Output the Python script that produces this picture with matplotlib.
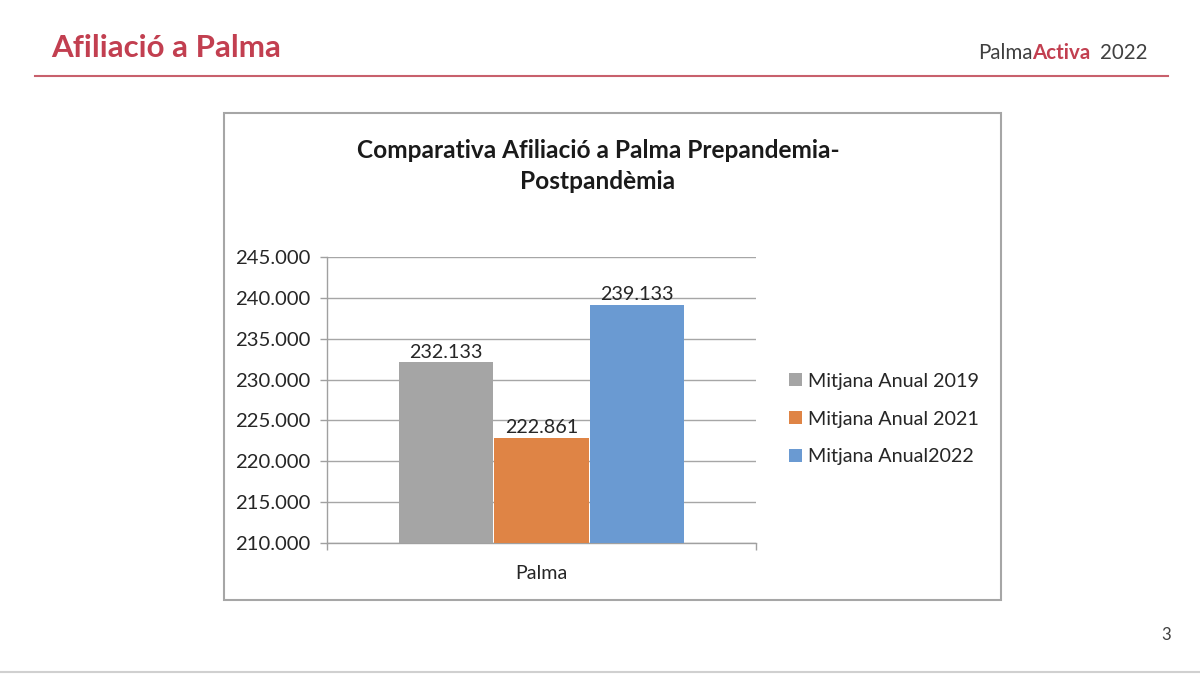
import matplotlib
matplotlib.use("Agg")
import matplotlib.pyplot as plt
from matplotlib.patches import Rectangle
from matplotlib.lines import Line2D

plt.rcParams['font.family'] = ['Lato', 'DejaVu Sans']

# ---- data ----
category = "Palma"
series = ["Mitjana Anual 2019", "Mitjana Anual 2021", "Mitjana Anual2022"]
values = [232133, 222861, 239133]
value_labels = ["232.133", "222.861", "239.133"]
colors = ["#A5A5A5", "#DF8445", "#6A9AD2"]
yticks = [210000, 215000, 220000, 225000, 230000, 235000, 240000, 245000]

W, H = 1200, 675
fig = plt.figure(figsize=(12, 6.75), dpi=100)
fig.patch.set_facecolor("white")

def fx(x):
    return x / W

def fy(y):
    return 1 - y / H

red = "#C23F50"
txt = "#262626"

# slide header
fig.text(fx(51), fy(48), "Afiliació a Palma", fontsize=22.5, fontweight="bold",
         color=red, va="center", ha="left")
fig.add_artist(Line2D([fx(35), fx(1168)], [fy(76), fy(76)], color="#C8606C", lw=1.5))
t1 = fig.text(fx(978), fy(53), "Palma", fontsize=14.8, color="#404040", va="center", ha="left")
fig.canvas.draw()
r = fig.canvas.get_renderer()
bb = t1.get_window_extent(r)
t2 = fig.text(bb.x1 / W, fy(53), "Activa", fontsize=14.8, fontweight="bold", color=red,
              va="center", ha="left")
bb2 = t2.get_window_extent(r)
fig.text(bb2.x1 / W + fx(9), fy(53), "2022", fontsize=14.8, color="#404040", va="center", ha="left")
fig.text(fx(1166), fy(635), "3", fontsize=12, color="#404040", va="center", ha="center")
fig.add_artist(Line2D([0, 1], [fy(672), fy(672)], color="#D0D0D0", lw=1.5))

# chart box
fig.add_artist(Rectangle((fx(224), fy(600)), fx(777), 487 / H, transform=fig.transFigure,
                         fill=False, edgecolor="#A6A6A6", lw=1.5))
fig.text(fx(598), fy(166), "Comparativa Afiliació a Palma Prepandemia-\nPostpandèmia",
         fontsize=17.6, fontweight="bold", color="#1a1a1a", ha="center", va="center",
         linespacing=1.4)

# axes
ax = fig.add_axes([fx(327), fy(543), 429 / W, 286 / H])
offsets = [-0.2226, 0.0, 0.2226]
bw = 0.22
bars = []
for off, v, c, s, lab in zip(offsets, values, colors, series, value_labels):
    b = ax.bar(off, v, width=bw, color=c, label=s, zorder=3)
    bars.append(b)
    ax.text(off, v + 200, lab, ha="center", va="bottom", fontsize=14.2, color=txt, zorder=4)

ax.set_xlim(-0.5, 0.5)
ax.set_ylim(yticks[0], yticks[-1])
ax.set_yticks(yticks)
ax.set_yticklabels([f"{v:,.0f}".replace(",", ".") for v in yticks], fontsize=14.6, color=txt)
ax.set_xticks([-0.5, 0.5])
ax.set_xticklabels([])
ax.tick_params(axis="y", length=5, width=1, color="#A0A0A0", pad=7)
ax.tick_params(axis="x", length=5, width=1, color="#A0A0A0")
ax.grid(axis="y", color="#A6A6A6", lw=1, zorder=0)
ax.set_axisbelow(True)
for sp in ["top", "right"]:
    ax.spines[sp].set_visible(False)
for sp in ["left", "bottom"]:
    ax.spines[sp].set_color("#A0A0A0")
    ax.spines[sp].set_linewidth(1)
ax.text(0, -0.105, category, transform=ax.get_xaxis_transform(), ha="center", va="center",
        fontsize=14.2, color=txt)

leg = ax.legend(handles=[b[0] for b in bars], labels=series, loc="center left",
                bbox_to_anchor=(fx(771), fy(419)), bbox_transform=fig.transFigure,
                frameon=False, fontsize=14.2, handlelength=0.65, handleheight=0.65,
                handletextpad=0.35, labelspacing=1.05)
for t in leg.get_texts():
    t.set_color(txt)

fig.savefig("out.png", dpi=100)
